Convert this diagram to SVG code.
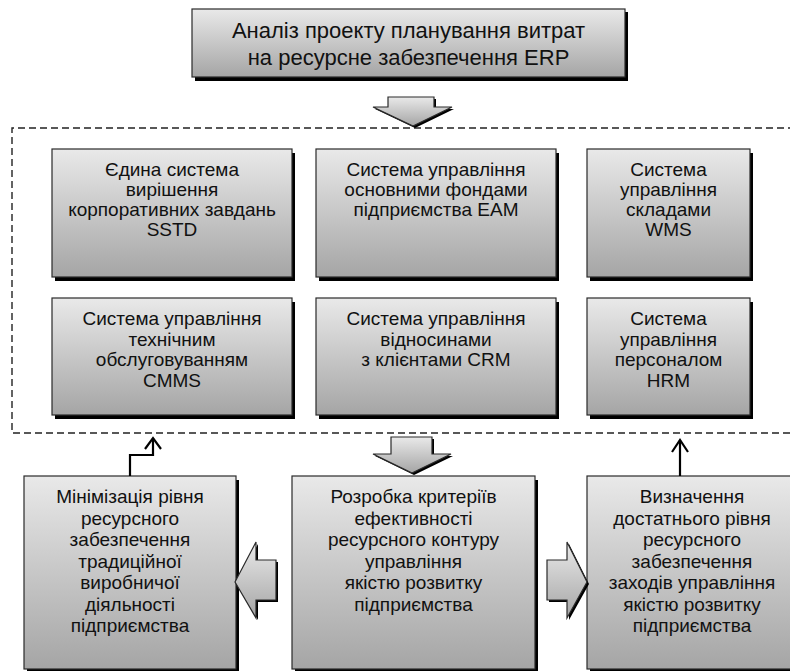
<svg xmlns="http://www.w3.org/2000/svg" width="790" height="671" viewBox="0 0 790 671">
<defs>
<linearGradient id="g" x1="0" y1="0" x2="0" y2="1">
<stop offset="0" stop-color="#e9e9e9"/>
<stop offset="1" stop-color="#a5a5a5"/>
</linearGradient>
</defs>
<style>
.sh{fill:#000}
.bx{fill:url(#g);stroke:#2a2a2a;stroke-width:1.2}
.t{font-family:"Liberation Sans",Arial,sans-serif;font-size:19px;fill:#111;text-anchor:middle}
.tb{font-size:22px}
.dash{fill:none;stroke:#222;stroke-width:1.4;stroke-dasharray:7 4}
.ln{fill:none;stroke:#000;stroke-width:2.2}
</style>

<g id="top">
<rect class="sh" x="195" y="12" width="433" height="69"/>
<rect class="bx" x="192" y="9" width="433" height="68"/>
<text class="t tb" x="408.5" y="38">Аналіз проекту планування витрат</text>
<text class="t tb" x="408.5" y="65">на ресурсне забезпечення ERP</text>
</g>

<g id="group-border">
<path class="dash" d="M795,128 H12 V433 H795"/>
</g>

<g id="sstd">
<rect class="sh" x="55" y="153" width="240" height="128"/>
<rect class="bx" x="52" y="149" width="240" height="128"/>
<text class="t" x="172" y="176">Єдина система</text>
<text class="t" x="172" y="196">вирішення</text>
<text class="t" x="172" y="216">корпоративних завдань</text>
<text class="t" x="172" y="236">SSTD</text>
</g>

<g id="eam">
<rect class="sh" x="319" y="153" width="240" height="128"/>
<rect class="bx" x="316" y="149" width="240" height="128"/>
<text class="t" x="436" y="176">Система управління</text>
<text class="t" x="436" y="196">основними фондами</text>
<text class="t" x="436" y="216">підприємства EAM</text>
</g>

<g id="wms">
<rect class="sh" x="590" y="153" width="163" height="128"/>
<rect class="bx" x="587" y="149" width="163" height="128"/>
<text class="t" x="668.5" y="176">Система</text>
<text class="t" x="668.5" y="196">управління</text>
<text class="t" x="668.5" y="216">складами</text>
<text class="t" x="668.5" y="236">WMS</text>
</g>

<g id="cmms">
<rect class="sh" x="55" y="302" width="240" height="117"/>
<rect class="bx" x="52" y="298" width="240" height="117"/>
<text class="t" x="172" y="325">Система управління</text>
<text class="t" x="172" y="345.5">технічним</text>
<text class="t" x="172" y="366">обслуговуванням</text>
<text class="t" x="172" y="386.5">CMMS</text>
</g>

<g id="crm">
<rect class="sh" x="319" y="302" width="240" height="117"/>
<rect class="bx" x="316" y="298" width="240" height="117"/>
<text class="t" x="436" y="325">Система управління</text>
<text class="t" x="436" y="345.5">відносинами</text>
<text class="t" x="436" y="366">з клієнтами CRM</text>
</g>

<g id="hrm">
<rect class="sh" x="590" y="302" width="163" height="117"/>
<rect class="bx" x="587" y="298" width="163" height="117"/>
<text class="t" x="668.5" y="325">Система</text>
<text class="t" x="668.5" y="345.5">управління</text>
<text class="t" x="668.5" y="366">персоналом</text>
<text class="t" x="668.5" y="386.5">HRM</text>
</g>

<g id="minimize">
<rect class="sh" x="27" y="480" width="212" height="200"/>
<rect class="bx" x="24" y="476" width="212" height="193"/>
<text class="t" x="130" y="503">Мінімізація рівня</text>
<text class="t" x="130" y="524.5">ресурсного</text>
<text class="t" x="130" y="546">забезпечення</text>
<text class="t" x="130" y="567.5">традиційної</text>
<text class="t" x="130" y="589">виробничої</text>
<text class="t" x="130" y="610.5">діяльності</text>
<text class="t" x="130" y="632">підприємства</text>
</g>

<g id="criteria">
<rect class="sh" x="295" y="480" width="243" height="200"/>
<rect class="bx" x="292" y="476" width="243" height="193"/>
<text class="t" x="413.5" y="503">Розробка критеріїв</text>
<text class="t" x="413.5" y="524.5">ефективності</text>
<text class="t" x="413.5" y="546">ресурсного контуру</text>
<text class="t" x="413.5" y="567.5">управління</text>
<text class="t" x="413.5" y="589">якістю розвитку</text>
<text class="t" x="413.5" y="610.5">підприємства</text>
</g>

<g id="sufficient">
<rect class="sh" x="590" y="480" width="212" height="200"/>
<rect class="bx" x="587" y="476" width="210" height="193"/>
<text class="t" x="692" y="503">Визначення</text>
<text class="t" x="692" y="524.5">достатнього рівня</text>
<text class="t" x="692" y="546">ресурсного</text>
<text class="t" x="692" y="567.5">забезпечення</text>
<text class="t" x="692" y="589">заходів управління</text>
<text class="t" x="692" y="610.5">якістю розвитку</text>
<text class="t" x="692" y="632">підприємства</text>
</g>

<g id="connectors">
<polygon class="sh" points="390,99 436,99 436,109 454,109 415,128 375,109 390,109"/>
<polygon class="bx" points="388,97 434,97 434,107 452,107 413,126 373,107 388,107"/>

<polygon class="sh" points="393,439 434,439 434,456 453,456 414,475 375,456 393,456"/>
<polygon class="bx" points="391,437 432,437 432,454 451,454 412,473 373,454 391,454"/>

<polygon class="sh" points="237,584 258,544 258,562 278,562 278,602 258,602 258,620"/>
<polygon class="bx" points="235,582 256,542 256,560 276,560 276,600 256,600 256,618"/>

<polygon class="sh" points="549,562 569,562 569,544 589,584 569,620 569,602 549,602"/>
<polygon class="bx" points="547,560 567,560 567,542 587,582 567,618 567,600 547,600"/>

<polyline class="ln" points="130,476 130,455 153,455 153,438"/>
<polyline class="ln" points="145,449 153,438 161,449"/>
<polyline class="ln" points="680,476 680,440"/>
<polyline class="ln" points="672,452 680,440 688,452"/>
</g>
</svg>
